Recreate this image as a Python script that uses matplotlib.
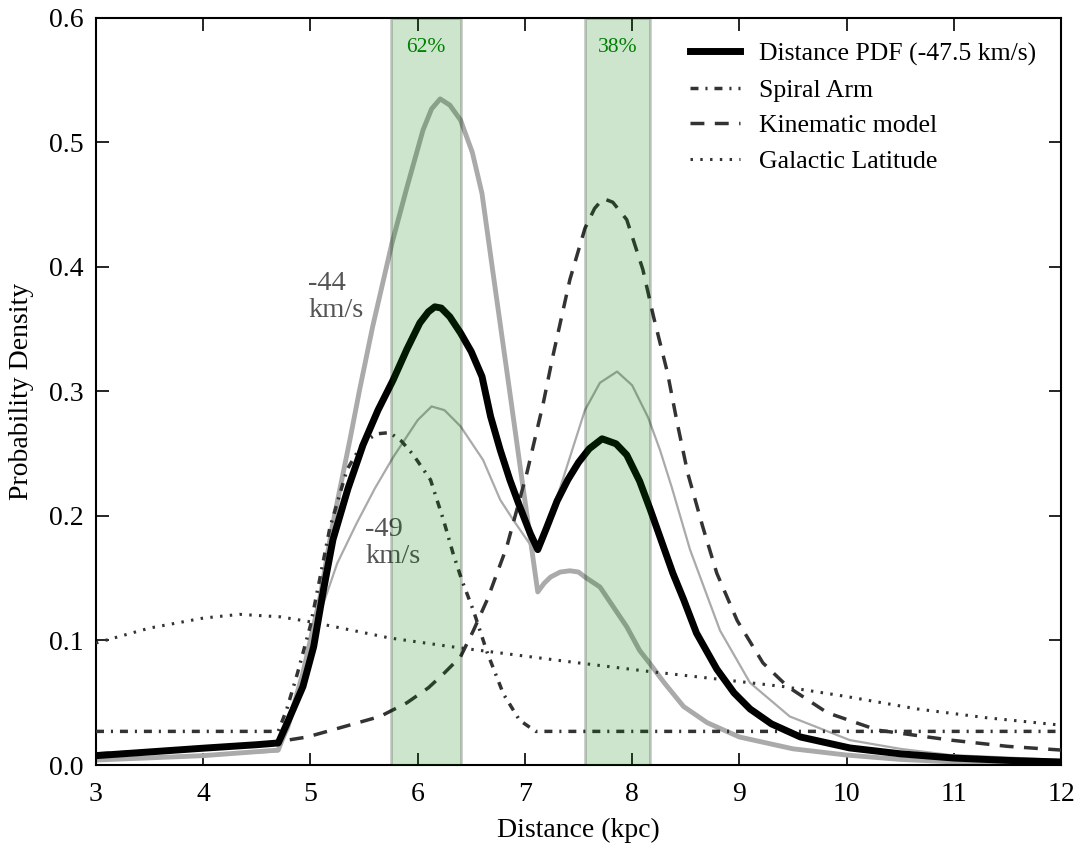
import matplotlib
matplotlib.use("Agg")
import matplotlib.pyplot as plt

# ---- data ----
pdf_x = [3.0, 3.5, 4.0, 4.5, 4.7, 4.8, 4.93, 5.03, 5.12, 5.21, 5.35, 5.49, 5.63, 5.77, 5.9, 6.02,
         6.1, 6.16, 6.22, 6.3, 6.4, 6.5, 6.6, 6.68, 6.77, 6.86, 6.95, 7.05, 7.12, 7.2, 7.3, 7.4,
         7.5, 7.6, 7.72, 7.85, 7.95, 8.07, 8.17, 8.38, 8.48, 8.6, 8.79, 8.95, 9.1, 9.3, 9.57,
         10.03, 10.5, 11.0, 11.5, 12.0]
pdf_y = [0.0075, 0.0105, 0.0135, 0.0163, 0.0177, 0.037, 0.063, 0.095, 0.14, 0.181, 0.222, 0.257,
         0.285, 0.309, 0.334, 0.355, 0.364, 0.368, 0.367, 0.360, 0.347, 0.332, 0.312, 0.28, 0.253,
         0.229, 0.208, 0.186, 0.173, 0.19, 0.212, 0.229, 0.243, 0.254, 0.262, 0.258, 0.249, 0.228,
         0.205, 0.154, 0.133, 0.106, 0.077, 0.058, 0.045, 0.033, 0.0225, 0.0137, 0.009, 0.0056,
         0.0037, 0.0024]

v44_x = [3.0, 4.0, 4.7, 4.8, 4.93, 5.09, 5.2, 5.37, 5.46, 5.58, 5.76, 5.9, 6.05, 6.13, 6.21, 6.3,
         6.4, 6.51, 6.6, 6.7, 6.86, 6.96, 7.05, 7.12, 7.18, 7.24, 7.33, 7.42, 7.5, 7.56, 7.7, 7.95,
         8.07, 8.17, 8.3, 8.48, 8.7, 9.0, 9.5, 10.0, 10.5, 11.0, 11.5, 12.0]
v44_y = [0.004, 0.0075, 0.012, 0.035, 0.074, 0.135, 0.19, 0.262, 0.302, 0.352, 0.419, 0.464, 0.51,
         0.527, 0.535, 0.53, 0.518, 0.492, 0.459, 0.397, 0.299, 0.237, 0.182, 0.139, 0.146, 0.151,
         0.155, 0.156, 0.155, 0.151, 0.143, 0.111, 0.092, 0.081, 0.066, 0.047, 0.034, 0.0225,
         0.013, 0.008, 0.0045, 0.0025, 0.0015, 0.001]

v49_x = [3.0, 4.0, 4.7, 4.8, 4.95, 5.09, 5.25, 5.43, 5.6, 5.77, 6.0, 6.13, 6.25, 6.4, 6.61, 6.77,
         6.89, 7.05, 7.12, 7.33, 7.56, 7.7, 7.86, 8.0, 8.15, 8.26, 8.37, 8.54, 8.82, 9.1, 9.47,
         10.03, 10.5, 10.97, 11.5, 12.0]
v49_y = [0.004, 0.0075, 0.011, 0.03, 0.075, 0.122, 0.162, 0.194, 0.222, 0.247, 0.277, 0.288, 0.285,
         0.272, 0.245, 0.213, 0.197, 0.177, 0.173, 0.223, 0.285, 0.307, 0.316, 0.305, 0.279, 0.253,
         0.223, 0.173, 0.108, 0.066, 0.039, 0.020, 0.013, 0.008, 0.006, 0.004]

spiral_x = [3.0, 4.7, 4.78, 4.88, 5.0, 5.1, 5.18, 5.34, 5.49, 5.62, 5.74, 5.85, 5.96, 6.12, 6.24,
            6.33, 6.41, 6.52, 6.65, 6.8, 6.95, 7.1, 12.0]
spiral_y = [0.027, 0.027, 0.045, 0.074, 0.112, 0.155, 0.19, 0.237, 0.259, 0.266, 0.267, 0.26, 0.249,
            0.229, 0.197, 0.170, 0.149, 0.124, 0.09, 0.057, 0.036, 0.027, 0.027]

kin_x = [3.0, 3.5, 4.0, 4.5, 4.97, 5.28, 5.65, 5.9, 6.1, 6.25, 6.4, 6.52, 6.65, 6.83, 7.02, 7.17,
         7.26, 7.42, 7.56, 7.65, 7.73, 7.82, 7.95, 8.1, 8.2, 8.33, 8.42, 8.52, 8.66, 8.79, 8.98,
         9.22, 9.45, 9.82, 10.29, 10.97, 11.5, 12.0]
kin_y = [0.009, 0.011, 0.013, 0.016, 0.0225, 0.030, 0.039, 0.05, 0.062, 0.074, 0.087, 0.108, 0.133,
         0.175, 0.235, 0.29, 0.328, 0.39, 0.431, 0.447, 0.455, 0.452, 0.438, 0.398, 0.36, 0.315,
         0.275, 0.234, 0.191, 0.154, 0.116, 0.082, 0.063, 0.042, 0.028, 0.020, 0.015, 0.012]

lat_x = [3.0, 3.5, 4.0, 4.34, 4.72, 5.0, 5.4, 5.74, 6.4, 6.77, 7.5, 8.17, 8.8, 9.41, 10.0, 10.66,
         11.3, 12.0]
lat_y = [0.098, 0.110, 0.118, 0.121, 0.119, 0.115, 0.108, 0.102, 0.094, 0.090, 0.082, 0.075, 0.069,
         0.063, 0.055, 0.045, 0.038, 0.032]

bands = [(5.75, 6.40), (7.56, 8.17)]
band_labels = ["62%", "38%"]

plt.rcParams['font.family'] = ['Liberation Serif', 'DejaVu Serif']

fig = plt.figure(figsize=(10.81, 8.44), dpi=100)
ax = fig.add_axes([0.0888, 0.0936, 0.8927, 0.8851])

ax.plot(v44_x, v44_y, color='#aaaaaa', lw=3.5, zorder=2)
ax.plot(v49_x, v49_y, color='#aaaaaa', lw=1.6, zorder=2)
ax.plot(pdf_x, pdf_y, color='black', lw=5, zorder=4, label='Distance PDF (-47.5 km/s)')
ax.plot(spiral_x, spiral_y, color='#333333', lw=2.5, ls=(0, (2.3, 2.0, 0.6, 2.0)), zorder=3,
        label='Spiral Arm')
ax.plot(kin_x, kin_y, color='#333333', lw=2.5, ls=(0, (4.0, 3.0)), zorder=3, label='Kinematic model')
ax.plot(lat_x, lat_y, color='#333333', lw=2.2, ls=(0, (0.8, 2.4)), zorder=3, label='Galactic Latitude')

for (a, b), lab in zip(bands, band_labels):
    ax.axvspan(a, b, facecolor='green', alpha=0.2, edgecolor='black', lw=2, zorder=5)
    ax.text((a + b) / 2, 0.576, lab, color='green', ha='center', va='center', fontsize=15.5, zorder=6)

ax.text(4.98, 0.376, "-44\nkm/s", color='#555555', fontsize=20.5, ha='left', va='center',
        linespacing=1.1)
ax.text(5.51, 0.178, "-49\nkm/s", color='#555555', fontsize=20.5, ha='left', va='center',
        linespacing=1.1)

ax.set_xlim(3, 12)
ax.set_ylim(0, 0.6)
ax.set_xticks(range(3, 13))
ax.set_yticks([0.0, 0.1, 0.2, 0.3, 0.4, 0.5, 0.6])
ax.set_yticklabels(["0.0", "0.1", "0.2", "0.3", "0.4", "0.5", "0.6"])
ax.tick_params(direction='in', top=True, right=True, length=9, width=1.2, labelsize=20)
ax.tick_params(axis='x', pad=12)
ax.tick_params(axis='y', pad=9)
for s in ax.spines.values():
    s.set_linewidth(1.5)
ax.set_xlabel("Distance (kpc)", fontsize=20, labelpad=8)
ax.set_ylabel("Probability Density", fontsize=20, labelpad=11)

leg = ax.legend(loc='upper right', frameon=False, fontsize=18.5, handlelength=1.95,
                borderaxespad=0.55, labelspacing=0.5, handletextpad=0.74)

fig.savefig("out.png", dpi=100)
